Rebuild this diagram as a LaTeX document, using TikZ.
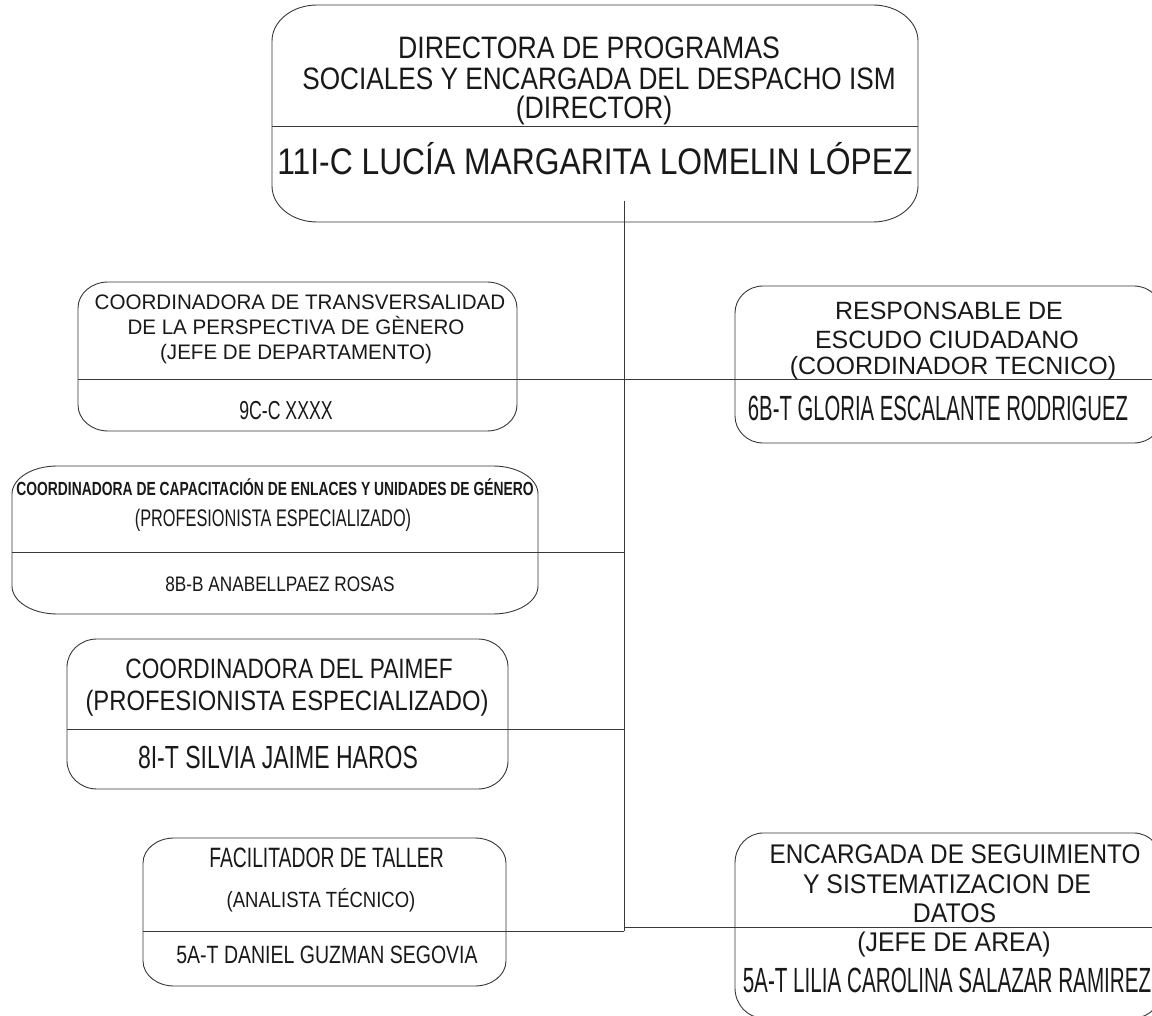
\documentclass[tikz,border=0pt]{standalone}
\usepackage{fontspec}
\setmainfont{Liberation Sans}
\usepackage{graphicx}
\newcommand{\tx}[3]{{\fontsize{#1}{#1}\selectfont\scalebox{#2}[1]{#3}}}
\newcommand{\txb}[3]{{\fontsize{#1}{#1}\selectfont\bfseries\scalebox{#2}[1]{#3}}}
% rounded outline with elliptical corners around a named node
\newcommand{\rrect}[3]{%
  \draw[ln] ([xshift=#2]#1.north west) -- ([xshift=-#2]#1.north east)
    arc[start angle=90,end angle=0,x radius=#2,y radius=#3]
    -- ([yshift=#3]#1.south east)
    arc[start angle=0,end angle=-90,x radius=#2,y radius=#3]
    -- ([xshift=#2]#1.south west)
    arc[start angle=270,end angle=180,x radius=#2,y radius=#3]
    -- ([yshift=-#3]#1.north west)
    arc[start angle=180,end angle=90,x radius=#2,y radius=#3] -- cycle;}
\begin{document}
\begin{tikzpicture}[x=1pt,y=-1pt,
  ln/.style={draw=black!78, line width=0.9pt},
  boxn/.style={rectangle, draw=none, inner sep=0pt, outer sep=0pt},
  txt/.style={inner sep=0pt, anchor=base, text=black!90}]
\clip (0,0) rectangle (1152,1016);
\fill[white] (0,0) rectangle (1152,1016);

% ---------- boxes ----------
\node[boxn, minimum width=646pt, minimum height=217pt] (dir) at (595,113.5) {};
\rrect{dir}{45pt}{36pt}
\draw[ln] (dir.west |- 0,126) -- (dir.east |- 0,126);

\node[boxn, minimum width=439pt, minimum height=149pt] (trans) at (297.5,356.5) {};
\rrect{trans}{30pt}{26pt}
\draw[ln] (trans.west |- 0,379) -- (trans.east |- 0,379);

\node[boxn, minimum width=526pt, minimum height=148pt] (capa) at (275,540) {};
\rrect{capa}{45pt}{28pt}
\draw[ln] (capa.west |- 0,552) -- (capa.east |- 0,552);

\node[boxn, minimum width=441pt, minimum height=150pt] (paimef) at (287.5,714) {};
\rrect{paimef}{30pt}{28pt}
\draw[ln] (paimef.west |- 0,729) -- (paimef.east |- 0,729);

\node[boxn, minimum width=363pt, minimum height=148pt] (taller) at (324.5,912) {};
\rrect{taller}{31pt}{25pt}
\draw[ln] (taller.west |- 0,931) -- (taller.east |- 0,931);

\node[boxn, minimum width=427pt, minimum height=157pt] (escudo) at (948.5,364.5) {};
\rrect{escudo}{28pt}{27pt}
\draw[ln] (escudo.west |- 0,379) -- (escudo.east |- 0,379);

\node[boxn, minimum width=427pt, minimum height=185pt] (datos) at (948.5,925.5) {};
\rrect{datos}{28pt}{30pt}
\draw[ln] (datos.west |- 0,927) -- (datos.east |- 0,927);

% ---------- connectors ----------
\coordinate (trtop) at (624,201);
\coordinate (trbot) at (624,931);
\coordinate (j3) at (624,552);
\coordinate (j4) at (624,729);
\coordinate (j6) at (624,927);
\draw[ln] (trtop) -- (trbot);
\draw[ln] (trans.east |- 0,379) -- (escudo.west |- 0,379);
\draw[ln] (capa.east |- j3) -- (j3);
\draw[ln] (paimef.east |- j4) -- (j4);
\draw[ln] (taller.east |- trbot) -- (trbot);
\draw[ln] (j6) -- (datos.west |- j6);

% ---------- texts ----------
\node[txt] (dirL1) at (589,59) {\tx{31}{0.86}{DIRECTORA DE PROGRAMAS}};
\node[txt] (dirL2) at (599,90) {\tx{31}{0.845}{SOCIALES Y ENCARGADA DEL DESPACHO ISM}};
\node[txt] (dirL3) at (594,119) {\tx{31}{0.86}{(DIRECTOR)}};
\node[txt] (dirN) at (595,175) {\tx{37}{0.86}{11I-C LUCÍA MARGARITA LOMELIN LÓPEZ}};

\node[txt] (transL1) at (300,310) {\tx{21}{0.98}{COORDINADORA DE TRANSVERSALIDAD}};
\node[txt] (transL2) at (296,335) {\tx{21}{0.98}{DE LA PERSPECTIVA DE GÈNERO}};
\node[txt] (transL3) at (296,360) {\tx{21}{0.98}{(JEFE DE DEPARTAMENTO)}};
\node[txt] (transN) at (286,420) {\tx{26}{0.68}{9C-C XXXX}};

\node[txt] (capaL1) at (275,495) {\txb{19}{0.73}{COORDINADORA DE CAPACITACIÓN DE ENLACES Y UNIDADES DE GÉNERO}};
\node[txt] (capaL2) at (273,526) {\tx{24}{0.68}{(PROFESIONISTA ESPECIALIZADO)}};
\node[txt] (capaN) at (280,591.5) {\tx{21}{0.82}{8B-B ANABELLPAEZ ROSAS}};

\node[txt] (paimefL1) at (289,678) {\tx{28}{0.81}{COORDINADORA DEL PAIMEF}};
\node[txt] (paimefL2) at (287,710) {\tx{28}{0.85}{(PROFESIONISTA ESPECIALIZADO)}};
\node[txt] (paimefN) at (278,768.5) {\tx{32}{0.72}{8I-T SILVIA JAIME HAROS}};

\node[txt] (tallerL1) at (326.5,867) {\tx{28}{0.69}{FACILITADOR DE TALLER}};
\node[txt] (tallerL2) at (321,907) {\tx{22}{0.84}{(ANALISTA TÉCNICO)}};
\node[txt] (tallerN) at (327,963) {\tx{25}{0.78}{5A-T DANIEL GUZMAN SEGOVIA}};

\node[txt] (escudoL1) at (949,320) {\tx{25}{1}{RESPONSABLE DE}};
\node[txt] (escudoL2) at (947,349) {\tx{25}{1}{ESCUDO CIUDADANO}};
\node[txt] (escudoL3) at (953,374) {\tx{25}{1}{(COORDINADOR TECNICO)}};
\node[txt] (escudoN) at (938,420.5) {\tx{35}{0.58}{6B-T GLORIA ESCALANTE RODRIGUEZ}};

\node[txt] (datosL1) at (955,863) {\tx{27}{0.9}{ENCARGADA DE SEGUIMIENTO}};
\node[txt] (datosL2) at (947,893) {\tx{27}{0.92}{Y SISTEMATIZACION DE}};
\node[txt] (datosL3) at (954.5,922) {\tx{27}{0.92}{DATOS}};
\node[txt] (datosL4) at (954,951) {\tx{27}{0.92}{(JEFE DE AREA)}};
\node[txt] (datosN) at (947,992) {\tx{35}{0.59}{5A-T LILIA CAROLINA SALAZAR RAMIREZ}};
\end{tikzpicture}
\end{document}
